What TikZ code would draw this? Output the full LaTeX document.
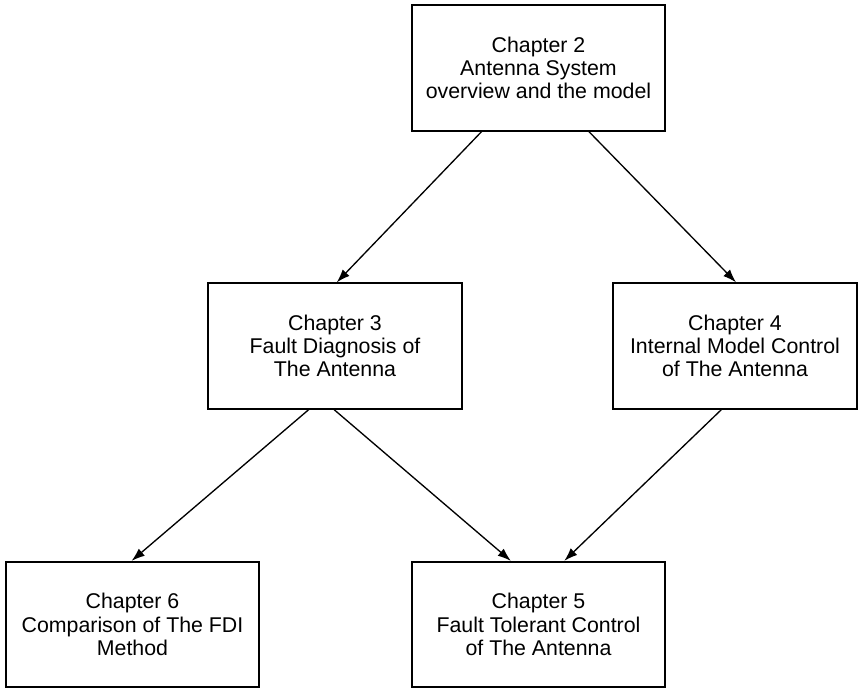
\documentclass[tikz,border=0pt]{standalone}
\usepackage{fontspec}
\setmainfont{Liberation Sans}
\usetikzlibrary{shapes,arrows.meta}

\begin{document}
\begin{tikzpicture}[x=0.75pt,y=-0.75pt,
	chapbox/.style={draw,line width=1.4pt,align=center,inner sep=0pt,minimum height=94pt,font=\fontsize{16}{17.5}\selectfont},
	link/.style={->,>={Latex[length=10pt,width=7pt]},line width=1pt}]
	\useasboundingbox (0,0) rectangle (859,689);

	% Top chapter
	\node [chapbox,minimum width=190pt] (ch2) at (538.5,68) {Chapter 2\\Antenna System\\overview and the model};

	% Middle chapters
	\node [chapbox,minimum width=190pt] (ch3) at (335,346) {Chapter 3\\Fault Diagnosis of\\The Antenna};
	\node [chapbox,minimum width=183pt] (ch4) at (735,346) {Chapter 4\\Internal Model Control\\of The Antenna};

	% Bottom chapters
	\node [chapbox,minimum width=190pt] (ch6) at (132.5,624.5) {Chapter 6\\Comparison of The FDI\\Method};
	\node [chapbox,minimum width=190pt] (ch5) at (538.5,624.5) {Chapter 5\\Fault Tolerant Control\\of The Antenna};

	% Links
	\draw[link] ([xshift=53pt]ch2.south west) -- ([xshift=97pt]ch3.north west);
	\draw[link] ([xshift=133.5pt]ch2.south west) -- ([xshift=93pt]ch4.north west);
	\draw[link] ([xshift=76pt]ch3.south west) -- ([xshift=95pt]ch6.north west);
	\draw[link] ([xshift=95pt]ch3.south west) -- ([xshift=75pt]ch5.north west);
	\draw[link] ([xshift=82pt]ch4.south west) -- ([xshift=115pt]ch5.north west);

\end{tikzpicture}
\end{document}
